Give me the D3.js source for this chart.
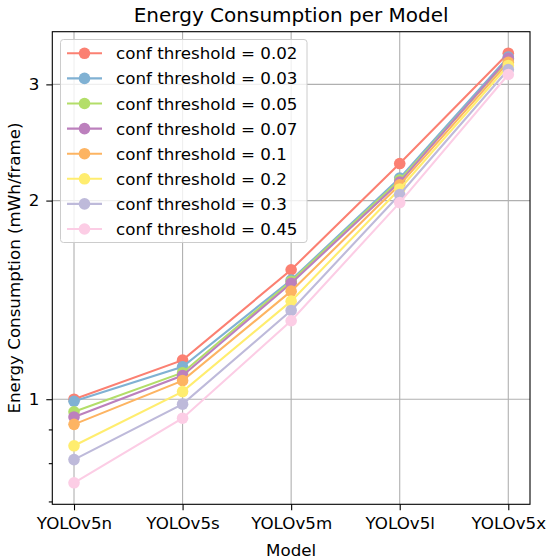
<!DOCTYPE html>
<html><head><meta charset="utf-8">
<script src="https://cdn.jsdelivr.net/npm/d3@7"></script>
<style>body{margin:0;background:#fff}text{font-family:"DejaVu Sans",sans-serif;fill:#000}</style>
</head><body><svg id="c" width="550" height="559"></svg>
<script>
const models = ["YOLOv5n","YOLOv5s","YOLOv5m","YOLOv5l","YOLOv5x"];
const thresholds = ["0.02","0.03","0.05","0.07","0.1","0.2","0.3","0.45"];
const colors = ["#fb8072","#80b1d3","#b3de69","#bc80bd","#fdb462","#ffed6f","#bebada","#fccde5"];
const e002 = [1.000,1.146,1.571,2.276,3.345];
const e003 = [0.993,1.120,1.516,2.163,3.300];
const e005 = [0.957,1.097,1.509,2.148,3.270];
const e007 = [0.940,1.086,1.499,2.133,3.285];
const e010 = [0.916,1.067,1.458,2.113,3.240];
const e020 = [0.850,1.027,1.408,2.083,3.205];
const e030 = [0.810,0.983,1.363,2.043,3.160];
const e045 = [0.747,0.936,1.315,1.986,3.105];
const series = [e002,e003,e005,e007,e010,e020,e030,e045];
const yMajor = [1,2,3];
const yMinor = [0.7,0.8,0.9];

const L=52.3,R=530,T=31.7,B=504.3;
const FS="16.7px";
const svg=d3.select("#c");
const x=d3.scaleLinear().domain([-0.2,models.length-1+0.2]).range([L,R]);
const all=series.flat();
const lmin=Math.log(d3.min(all)),lmax=Math.log(d3.max(all)),pad=(lmax-lmin)*0.05;
const y=d3.scaleLog().domain([Math.exp(lmin-pad),Math.exp(lmax+pad)]).range([B,T]);

// grid
const g=svg.append("g");
g.selectAll(".gx").data(models).enter().append("line")
 .attr("x1",(d,i)=>x(i)).attr("x2",(d,i)=>x(i)).attr("y1",T).attr("y2",B)
 .attr("stroke","#b0b0b0").attr("stroke-width",1.1);
g.selectAll(".gy").data(yMajor).enter().append("line")
 .attr("x1",L).attr("x2",R).attr("y1",d=>y(d)).attr("y2",d=>y(d))
 .attr("stroke","#b0b0b0").attr("stroke-width",1.1);

// axes
const xa=svg.append("g").attr("transform",`translate(0,${B})`)
 .call(d3.axisBottom(x).tickValues(d3.range(models.length)).tickFormat(i=>models[i]).tickSize(6).tickPadding(7));
const ya=svg.append("g").attr("transform",`translate(${L},0)`)
 .call(d3.axisLeft(y).tickValues(yMajor).tickFormat(d3.format("d")).tickSize(6).tickPadding(7));
const ym=svg.append("g").attr("transform",`translate(${L},0)`)
 .call(d3.axisLeft(y).tickValues(yMinor).tickFormat("").tickSize(3.5));
[xa,ya,ym].forEach(a=>{a.select(".domain").remove();a.selectAll("line").attr("stroke","#000").attr("stroke-width",1.1);
 a.selectAll("text").style("font-family","DejaVu Sans").style("font-size",FS).attr("fill","#000");});

// lines
const line=d3.line().x((d,i)=>x(i)).y(d=>y(d));
series.forEach((s,k)=>{
 const gg=svg.append("g");
 gg.append("path").datum(s).attr("d",line).attr("fill","none").attr("stroke",colors[k]).attr("stroke-width",2.1);
 gg.selectAll("circle").data(s).enter().append("circle").attr("cx",(d,i)=>x(i)).attr("cy",d=>y(d)).attr("r",5.8).attr("fill",colors[k]);
});

// frame
svg.append("rect").attr("x",L).attr("y",T).attr("width",R-L).attr("height",B-T).attr("fill","none").attr("stroke","#000").attr("stroke-width",1.1);

// legend
const lg=svg.append("g");
lg.append("rect").attr("x",60.5).attr("y",39.5).attr("width",246.5).attr("height",203).attr("rx",3)
 .attr("fill","#fff").attr("fill-opacity",0.8).attr("stroke","#cccccc").attr("stroke-width",1);
thresholds.forEach((t,k)=>{
 const yy=53.3+k*25.1;
 lg.append("line").attr("x1",67).attr("x2",102).attr("y1",yy).attr("y2",yy).attr("stroke",colors[k]).attr("stroke-width",2.1);
 lg.append("circle").attr("cx",84.5).attr("cy",yy).attr("r",5.8).attr("fill",colors[k]);
 lg.append("text").attr("x",116).attr("y",yy).attr("dy","0.36em").style("font-size",FS).text("conf threshold = "+t);
});

// labels
svg.append("text").attr("x",(L+R)/2).attr("y",21.5).attr("text-anchor","middle").style("font-size","20px").text("Energy Consumption per Model");
svg.append("text").attr("x",(L+R)/2).attr("y",556).attr("text-anchor","middle").style("font-size",FS).text("Model");
svg.append("text").attr("transform",`translate(19.5,${(T+B)/2}) rotate(-90)`).attr("text-anchor","middle").style("font-size",FS).text("Energy Consumption (mWh/frame)");
</script></body></html>
